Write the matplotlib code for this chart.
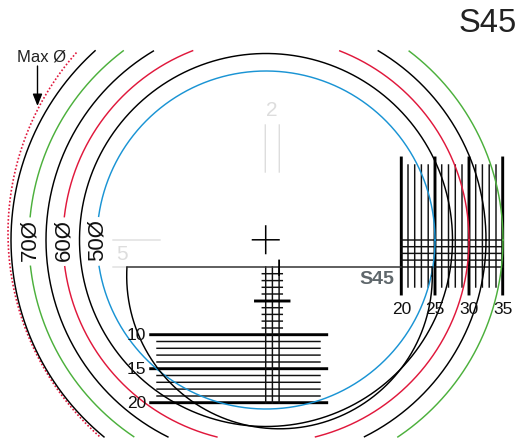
import numpy as np
import matplotlib
matplotlib.use('Agg')
import matplotlib.pyplot as plt

plt.rcParams['font.family'] = ['Liberation Sans', 'DejaVu Sans']
plt.rcParams['path.snap'] = False

# everything in picture pixels, y down
width, height = 520, 438
center_x, center_y = 266, 240

# image circles, radius in px
circle_labels = ['50Ø', '60Ø', '70Ø']
label_radii = [169, 203, 237]
circle_radii = [169, 186.5, 203, 220, 237, 255]
circle_colors = ['#1a94d4', 'black', '#e0183c', 'black', '#4cb03c', 'black']
gap_rows = [217, 266]

h_major = [334.7, 368.7, 402.7]
h_major_labels = ['10', '15', '20']
h_minor = [341.5, 348.3, 355.1, 362, 375.5, 382.3, 389.1, 396]
v_major = [401.3, 435, 469, 502.7]
v_major_labels = ['20', '25', '30', '35']
v_minor = [408, 414.7, 421.4, 428.2, 441.7, 448.5, 455.3, 462, 475.7, 482.4, 489.2, 496]
cross_rows = [240, 246.7, 253.4, 260.1, 267]
stem_x = [265.7, 272.4, 279.1]
stem_rows = [273.7, 280.6, 287.3, 294, 307.7, 314.4, 321.1, 328]


def arc_xy(r, cx=center_x, cy=center_y):
    t = np.linspace(0, 2 * np.pi, 1500)
    return cx + r * np.cos(t), cy + r * np.sin(t)


fig = plt.figure(figsize=(width / 100, height / 100), dpi=100)
ax = fig.add_axes([0, 0, 1, 1])
ax.set_xlim(0, width)
ax.set_ylim(height, 0)
ax.axis('off')

for i, r in enumerate(circle_radii):
    x, y = arc_xy(r)
    y[(y < 50.7) | (y > 437)] = np.nan
    if r in label_radii:
        # break on the left for the size label
        y[(x < center_x) & (y > gap_rows[0]) & (y < gap_rows[1])] = np.nan
    if r == circle_radii[-1]:
        # outermost one only shows on the left
        y[x > center_x] = np.nan
    ax.plot(x, y, color=circle_colors[i], lw=1.05, zorder=3)

# max diameter, dotted, not concentric
x, y = arc_xy(272, 280, 233)
y[(y < 50.7) | (y > 437) | (x > center_x)] = np.nan
ax.plot(x, y, color='#e0183c', lw=1.2, ls=(0, (1, 1.2)), zorder=2)

# crop circle
x, y = arc_xy(152.8, 279.5, 276)
y[y < 267] = np.nan
ax.plot(x, y, color='black', lw=1.05, zorder=3)
ax.plot([127, 401], [267, 267], color='#333333', lw=1.1, zorder=3)

# horizontal scale
for yy in h_major:
    ax.plot([150.7, 326.7], [yy, yy], color='black', lw=2.1, zorder=2)
for yy in h_minor:
    ax.plot([157, 320], [yy, yy], color='#111111', lw=1.05, zorder=2)
for s, yy in zip(h_major_labels, h_major):
    ax.text(146, yy + 1, s, ha='right', va='center', fontsize=12.5, color='#111111', zorder=4)

# vertical scale
for xx in v_major:
    ax.plot([xx, xx], [158, 294], color='black', lw=2.1, zorder=2)
for xx in v_minor:
    ax.plot([xx, xx], [165, 287], color='#111111', lw=1.05, zorder=2)
for s, xx in zip(v_major_labels, v_major):
    ax.text(xx, 309, s, ha='center', va='center', fontsize=12.5, color='#111111', zorder=4)
for yy in cross_rows:
    ax.plot([401, 503], [yy, yy], color='#111111', lw=1.05, zorder=2)

# centre stem
for xx in stem_x:
    ax.plot([xx, xx], [267, 403], color='#111111', lw=1.05, zorder=2)
ax.plot([279.1, 279.1], [260.5, 275], color='black', lw=1.3, zorder=3)
ax.plot([255.5, 289], [301, 301], color='black', lw=2.1, zorder=3)
for yy in stem_rows:
    ax.plot([262.3, 282.3], [yy, yy], color='#111111', lw=1.05, zorder=2)

# crosshair
ax.plot([252.5, 279], [239.8, 239.8], color='black', lw=1.1)
ax.plot([265.7, 265.7], [226, 253.5], color='black', lw=1.1)

# faint marks
faint = '#dddddd'
ax.plot([265.3, 265.3], [125, 172], color=faint, lw=1.0)
ax.plot([279.3, 279.3], [125, 172], color=faint, lw=1.0)
ax.text(272, 111, '2', ha='center', va='center', fontsize=15, color=faint)
ax.plot([113, 160], [240, 240], color=faint, lw=1.0)
ax.plot([113, 127], [267, 267], color=faint, lw=1.0)
ax.text(122, 254.5, '5', ha='center', va='center', fontsize=15, color=faint)

# labels
for s, r in zip(circle_labels, label_radii):
    ax.text(center_x - r + 0.5, 240, s, rotation=90, ha='center', va='center', fontsize=16, color='#111111')
ax.text(394.5, 280, 'S45', ha='right', va='center', fontsize=14, fontweight='bold', color='#5f676b')
ax.text(517, 24, 'S45', ha='right', va='center', fontsize=23.5, color='#222222')
ax.text(17, 57, 'Max Ø', ha='left', va='center', fontsize=12, color='#222222')
ax.annotate('', xy=(37.5, 106), xytext=(37.5, 66),
            arrowprops=dict(arrowstyle='-|>,head_length=0.55,head_width=0.22', color='black',
                            lw=1.0, mutation_scale=13, shrinkA=0, shrinkB=0))

fig.savefig('out.png', dpi=100)
